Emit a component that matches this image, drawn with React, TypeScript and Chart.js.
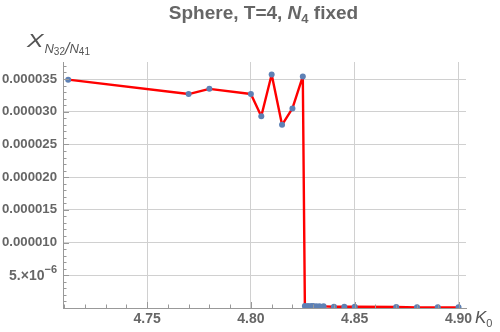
import React, { useEffect, useRef } from "react";
import { Chart, registerables } from "chart.js";

Chart.register(...registerables);

const K0 = [4.712, 4.77, 4.78, 4.80, 4.805, 4.81, 4.815, 4.82, 4.825, 4.826, 4.8275, 4.829, 4.830, 4.8315, 4.833, 4.835, 4.84, 4.845, 4.85, 4.87, 4.88, 4.89, 4.90];
const XN = [3.49e-5, 3.27e-5, 3.35e-5, 3.27e-5, 2.93e-5, 3.57e-5, 2.80e-5, 3.05e-5, 3.54e-5, 3e-7, 3e-7, 3e-7, 3e-7, 2.5e-7, 2.5e-7, 2.5e-7, 2e-7, 2e-7, 2e-7, 1.5e-7, 1e-7, 1e-7, 1e-7];
const X_TICKS = [4.75, 4.80, 4.85, 4.90];
const Y_TICKS = [5e-6, 1e-5, 1.5e-5, 2e-5, 2.5e-5, 3e-5, 3.5e-5];
const Y_TICK_LABELS = ["", "0.000010", "0.000015", "0.000020", "0.000025", "0.000030", "0.000035"];
const SCI_TICK = { value: 5e-6, mantissa: "5.×10", exponent: "−6" };

const GRAY = "#666666";
const FONT = "'Liberation Sans', Arial, sans-serif";

const decor = {
  id: "decor",
  afterDraw(chart: any) {
    const ctx = chart.ctx;
    const xs = chart.scales.x;
    const ys = chart.scales.y;
    const area = chart.chartArea;
    ctx.save();
    ctx.strokeStyle = "#999999";
    ctx.lineWidth = 1;
    for (let i = 0; i <= 19; i++) {
      const v = 4.71 + i * 0.01;
      const px = Math.round(xs.getPixelForValue(v)) + 0.5;
      const major = i % 5 === 4;
      ctx.beginPath();
      ctx.moveTo(px, area.bottom);
      ctx.lineTo(px, area.bottom - (major ? 6 : 3.5));
      ctx.stroke();
    }
    for (let i = 1; i <= 37; i++) {
      const v = i * 1e-6;
      const py = Math.round(ys.getPixelForValue(v)) + 0.5;
      const major = i % 5 === 0;
      ctx.beginPath();
      ctx.moveTo(area.left, py);
      ctx.lineTo(area.left + (major ? 6 : 3.5), py);
      ctx.stroke();
    }
    ctx.fillStyle = GRAY;
    ctx.textBaseline = "alphabetic";
    {
      const py = ys.getPixelForValue(SCI_TICK.value);
      ctx.font = "bold 11px " + FONT;
      const ew = ctx.measureText(SCI_TICK.exponent).width;
      ctx.font = "bold 14px " + FONT;
      const mw = ctx.measureText(SCI_TICK.mantissa).width;
      const right = area.left - 6;
      ctx.fillText(SCI_TICK.mantissa, right - ew - mw, py + 5);
      ctx.font = "bold 11px " + FONT;
      ctx.fillText(SCI_TICK.exponent, right - ew, py - 2);
    }
    const parts: [string, string, number][] = [
      ["Sphere, T=4, ", "bold 19px " + FONT, 0],
      ["N", "italic bold 19px " + FONT, 0],
      ["4", "bold 13px " + FONT, 4],
      [" fixed", "bold 19px " + FONT, 0],
    ];
    let total = 0;
    for (const p of parts) { ctx.font = p[1]; total += ctx.measureText(p[0]).width; }
    let x = 263.5 - total / 2;
    for (const p of parts) {
      ctx.font = p[1];
      ctx.fillText(p[0], x, 19 + p[2]);
      x += ctx.measureText(p[0]).width;
    }
    ctx.fillStyle = "#555555";
    ctx.save();
    ctx.translate(27, 47);
    ctx.scale(1.3, 1);
    ctx.font = "italic 19px " + FONT;
    ctx.fillText("X", 0, 0);
    const xw = ctx.measureText("X").width * 1.3;
    ctx.restore();
    let lx = 27 + xw + 1;
    ctx.font = "italic 13px " + FONT;
    ctx.fillText("N", lx, 53);
    lx += ctx.measureText("N").width;
    ctx.font = "10px " + FONT;
    ctx.fillText("32", lx, 55);
    lx += ctx.measureText("32").width;
    ctx.font = "italic 16px " + FONT;
    ctx.fillText("/", lx, 54);
    lx += ctx.measureText("/").width;
    ctx.font = "italic 13px " + FONT;
    ctx.fillText("N", lx, 53);
    lx += ctx.measureText("N").width;
    ctx.font = "10px " + FONT;
    ctx.fillText("41", lx, 55);
    ctx.font = "italic 17px " + FONT;
    ctx.fillText("K", 475, 323);
    const kx = 475 + ctx.measureText("K").width;
    ctx.font = "11px " + FONT;
    ctx.fillText("0", kx, 327);
    ctx.restore();
  },
};

export default function App() {
  const ref = useRef<HTMLCanvasElement>(null);
  useEffect(() => {
    const chart = new Chart(ref.current!, {
      type: "line",
      data: {
        datasets: [
          {
            data: K0.map((k, i) => ({ x: k, y: XN[i] })),
            borderColor: "#ff0000",
            borderWidth: 2.4,
            borderJoinStyle: "round",
            pointBackgroundColor: "#5e81b5",
            pointBorderColor: "#5e81b5",
            pointRadius: 3,
            pointBorderWidth: 0,
            tension: 0,
          },
        ],
      },
      options: {
        animation: false,
        responsive: false,
        maintainAspectRatio: false,
        events: [],
        layout: { padding: { top: 62, right: 34, left: 0, bottom: 0 } },
        plugins: { legend: { display: false }, tooltip: { enabled: false }, title: { display: false } },
        scales: {
          x: {
            type: "linear",
            min: 4.7095,
            max: 4.9036,
            afterBuildTicks: (s: any) => { s.ticks = X_TICKS.map((v) => ({ value: v })); },
            afterFit: (s: any) => { s.height = 24; },
            ticks: {
              color: GRAY,
              font: { family: FONT, size: 14, weight: "bold" },
              padding: 3,
              maxRotation: 0,
              callback: (v: any) => Number(v).toFixed(2),
            },
            grid: { color: "#d0d0d0", lineWidth: 1, drawTicks: false },
            border: { display: true, color: "#999999", width: 1 },
          },
          y: {
            type: "linear",
            min: 0,
            max: 3.76e-5,
            afterBuildTicks: (s: any) => { s.ticks = Y_TICKS.map((v) => ({ value: v })); },
            afterFit: (s: any) => { s.width = 63; },
            ticks: {
              color: GRAY,
              font: { family: FONT, size: 13.2, weight: "bold" },
              padding: 6,
              callback: (v: any) => {
                const i = Y_TICKS.findIndex((t) => Math.abs(t - v) < 1e-9);
                return i >= 0 ? Y_TICK_LABELS[i] : "";
              },
            },
            grid: { color: "#d0d0d0", lineWidth: 1, drawTicks: false },
            border: { display: true, color: "#999999", width: 1 },
          },
        },
      },
      plugins: [decor],
    });
    return () => chart.destroy();
  }, []);
  return (
    <div style={{ position: "fixed", left: 0, top: 0, width: 500, height: 332, background: "#fff" }}>
      <canvas ref={ref} width={500} height={332} style={{ display: "block", width: 500, height: 332 }} />
    </div>
  );
}
